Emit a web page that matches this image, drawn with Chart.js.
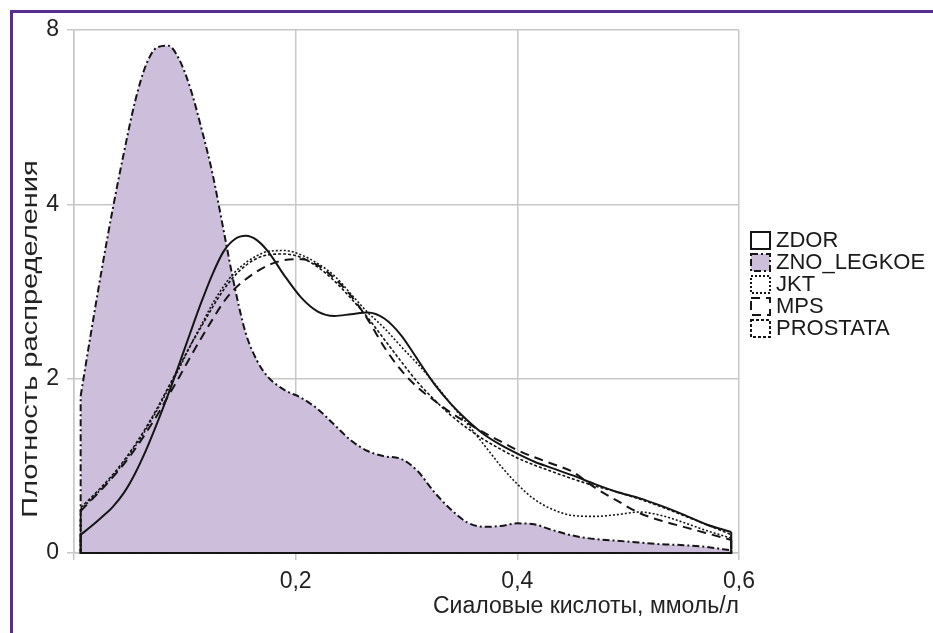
<!DOCTYPE html>
<html>
<head>
<meta charset="utf-8">
<script src="https://cdn.jsdelivr.net/npm/chart.js@4.4.1/dist/chart.umd.min.js"></script>
<style>
  html, body { margin: 0; padding: 0; background: #fff; }
  #wrap { position: relative; width: 933px; height: 633px; overflow: hidden; }
  #frame { position: absolute; left: 10px; top: 10px; width: 1000px; height: 700px;
           border-left: 3px solid #5b2d8e; border-top: 3px solid #5b2d8e; }
  #graf { position: absolute; left: 0; top: 0; }
  #legend { position: absolute; left: 750px; top: 229px; font-family: "Liberation Sans", Arial, sans-serif;
            font-size: 22px; color: #1a1a1a; }
  #legend .row { display: flex; align-items: center; height: 22px; }
  #legend svg { display: block; margin-right: 4px; }
</style>
</head>
<body>
<div id="wrap">
  <div id="frame"></div>
  <canvas id="graf" width="933" height="633"></canvas>
  <div id="legend"></div>
</div>
<script>
// x positions, ммоль/л
const xVals = [0.006, 0.015, 0.025, 0.035, 0.045, 0.055, 0.065, 0.075, 0.085, 0.095, 0.105, 0.115, 0.125, 0.135, 0.145,
  0.155, 0.165, 0.175, 0.19, 0.205, 0.22, 0.235, 0.25, 0.265, 0.28, 0.295, 0.31, 0.325, 0.34, 0.355, 0.37, 0.385,
  0.40, 0.415, 0.43, 0.45, 0.47, 0.49, 0.51, 0.53, 0.55, 0.57, 0.593]

const zdor = [0.21, 0.30, 0.41, 0.53, 0.69, 0.91, 1.18, 1.49, 1.82, 2.17, 2.53, 2.88, 3.20, 3.46, 3.60,
  3.64, 3.59, 3.46, 3.18, 2.93, 2.77, 2.72, 2.74, 2.76, 2.69, 2.50, 2.22, 1.94, 1.71, 1.52, 1.36, 1.24,
  1.14, 1.05, 0.98, 0.89, 0.79, 0.70, 0.63, 0.54, 0.44, 0.33, 0.24]
const znoLegkoe = [1.80, 2.50, 3.25, 3.95, 5.18, 6.35, 7.20, 7.60, 7.64, 7.32, 6.66, 5.74, 4.70, 3.70, 3.05,
  2.52, 2.21, 2.02, 1.87, 1.78, 1.65, 1.47, 1.29, 1.17, 1.11, 1.08, 0.94, 0.70, 0.50, 0.35, 0.30, 0.31,
  0.34, 0.33, 0.27, 0.20, 0.16, 0.14, 0.12, 0.10, 0.09, 0.07, 0.03]
const jkt = [0.50, 0.61, 0.74, 0.88, 1.04, 1.22, 1.42, 1.64, 1.88, 2.12, 2.38, 2.62, 2.86, 3.06, 3.22,
  3.33, 3.41, 3.46, 3.47, 3.42, 3.32, 3.18, 2.97, 2.76, 2.58, 2.37, 2.17, 1.95, 1.71, 1.48, 1.24, 1.00,
  0.79, 0.62, 0.51, 0.43, 0.42, 0.44, 0.47, 0.43, 0.35, 0.26, 0.17]
const mps = [0.48, 0.60, 0.73, 0.87, 1.02, 1.19, 1.38, 1.58, 1.80, 2.02, 2.25, 2.47, 2.68, 2.88, 3.03,
  3.14, 3.23, 3.30, 3.36, 3.37, 3.30, 3.15, 2.95, 2.68, 2.36, 2.10, 1.90, 1.75, 1.61, 1.49, 1.38, 1.28,
  1.18, 1.10, 1.03, 0.93, 0.75, 0.60, 0.46, 0.37, 0.30, 0.23, 0.15]
const prostata = [0.52, 0.63, 0.76, 0.90, 1.06, 1.24, 1.44, 1.66, 1.90, 2.14, 2.38, 2.60, 2.82, 3.02, 3.18,
  3.30, 3.38, 3.42, 3.43, 3.39, 3.28, 3.12, 2.92, 2.70, 2.45, 2.20, 1.96, 1.76, 1.58, 1.43, 1.30, 1.19,
  1.09, 1.01, 0.94, 0.85, 0.77, 0.70, 0.62, 0.53, 0.43, 0.33, 0.21]

const seriesNames = ['ZDOR', 'ZNO_LEGKOE', 'JKT', 'MPS', 'PROSTATA']
const yTickValues = [0, 2, 4, 8]
const xTitle = 'Сиаловые кислоты, ммоль/л'
const yTitle = 'Плотность распределения'

// y axis in the picture: 0,2,4,8 spaced evenly, linear between them
class StepScale extends Chart.LinearScale {
  buildTicks() {
    return yTickValues.map(v => ({ value: v }))
  }
  getPixelForValue(v) {
    const n = yTickValues.length - 1
    let i = 0
    while (i < n - 1 && v > yTickValues[i + 1]) i++
    const f = (i + (v - yTickValues[i]) / (yTickValues[i + 1] - yTickValues[i])) / n
    return this.getPixelForDecimal(f)
  }
  getValueForPixel(p) {
    const n = yTickValues.length - 1
    const d = this.getDecimalForPixel(p) * n
    const i = Math.max(0, Math.min(Math.floor(d), n - 1))
    return yTickValues[i] + (d - i) * (yTickValues[i + 1] - yTickValues[i])
  }
}
StepScale.id = 'step'
StepScale.defaults = Chart.LinearScale.defaults
Chart.register(StepScale)

const ink = '#151515'
const styles = [
  { dash: [], width: 2 },
  { dash: [7, 3, 2, 3], width: 2, fill: '#cdbfdc' },
  { dash: [2, 2], width: 1.6 },
  { dash: [9, 6], width: 2 },
  { dash: [3, 2], width: 1.6 }
]
const allSeries = [zdor, znoLegkoe, jkt, mps, prostata]

const datasets = allSeries.map((vals, k) => ({
  label: seriesNames[k],
  data: xVals.map((x, i) => ({ x: x, y: vals[i] })),
  borderColor: ink,
  borderWidth: styles[k].width,
  borderDash: styles[k].dash,
  backgroundColor: styles[k].fill || 'transparent',
  fill: styles[k].fill ? 'origin' : false,
  pointRadius: 0,
  cubicInterpolationMode: 'monotone',
  order: styles[k].fill ? 1 : 0
}))

// density curves are closed down to zero at both ends
const closeCurves = {
  id: 'closeCurves',
  afterDatasetsDraw(chart) {
    const ctx = chart.ctx
    const base = chart.scales.y.getPixelForValue(0)
    chart.data.datasets.forEach((ds, i) => {
      const pts = chart.getDatasetMeta(i).data
      const a = pts[0], b = pts[pts.length - 1]
      ctx.save()
      ctx.strokeStyle = ds.borderColor
      ctx.lineWidth = ds.borderWidth
      ctx.setLineDash(ds.borderDash)
      ctx.beginPath()
      ctx.moveTo(b.x, b.y)
      ctx.lineTo(b.x, base)
      ctx.lineTo(a.x, base)
      ctx.lineTo(a.x, a.y)
      ctx.stroke()
      ctx.restore()
    })
  }
}

const yTitlePlugin = {
  id: 'yTitle',
  afterDraw(chart) {
    const ctx = chart.ctx
    ctx.save()
    ctx.translate(37, chart.chartArea.bottom - 214)
    ctx.rotate(-Math.PI / 2)
    ctx.scale(1.32, 1)
    ctx.font = '22px "Liberation Sans", Arial, sans-serif'
    ctx.fillStyle = '#222'
    ctx.textAlign = 'center'
    ctx.textBaseline = 'alphabetic'
    ctx.fillText(yTitle, 0, 0)
    ctx.restore()
  }
}

const gridColor = '#c8c8c8'
const sans = '"Liberation Sans", Arial, sans-serif'
const tickFont = { family: sans, size: 23 }

new Chart(document.getElementById('graf'), {
  type: 'line',
  data: { datasets: datasets },
  options: {
    responsive: false,
    animation: false,
    layout: { padding: { top: 30, right: 194, left: 0, bottom: 12 } },
    plugins: { legend: { display: false }, tooltip: { enabled: false } },
    scales: {
      x: {
        type: 'linear',
        min: 0, max: 0.6,
        afterFit: s => { s.height = 68 },
        ticks: {
          stepSize: 0.2, color: '#222', font: tickFont, padding: 8, maxRotation: 0,
          callback: v => v === 0 ? '' : v.toFixed(1).replace('.', ',')
        },
        grid: { color: gridColor, lineWidth: 1.5, tickLength: 7, tickColor: gridColor },
        border: { color: gridColor, width: 1.5 },
        title: {
          display: true, text: xTitle, align: 'end', color: '#222',
          font: { family: sans, size: 23 },
          padding: { top: 0, bottom: 1 }
        }
      },
      y: {
        type: 'step',
        min: 0, max: 8,
        afterFit: s => { s.width = 74 },
        ticks: { color: '#222', font: tickFont, padding: 8 },
        grid: { color: gridColor, lineWidth: 1.5, tickLength: 7, tickColor: gridColor },
        border: { color: gridColor, width: 1.5 }
      }
    }
  },
  plugins: [closeCurves, yTitlePlugin]
})

// legend with the same line styles
const legend = document.getElementById('legend')
seriesNames.forEach((name, k) => {
  const st = styles[k]
  const row = document.createElement('div')
  row.className = 'row'
  row.innerHTML = '<svg width="22" height="19"><rect x="1" y="1" width="19" height="17" fill="' +
    (st.fill || 'none') + '" stroke="' + ink + '" stroke-width="2" stroke-dasharray="' +
    (st.dash.length ? st.dash.join(' ') : 'none') + '"/></svg><span>' + name + '</span>'
  legend.appendChild(row)
})
</script>
</body>
</html>
